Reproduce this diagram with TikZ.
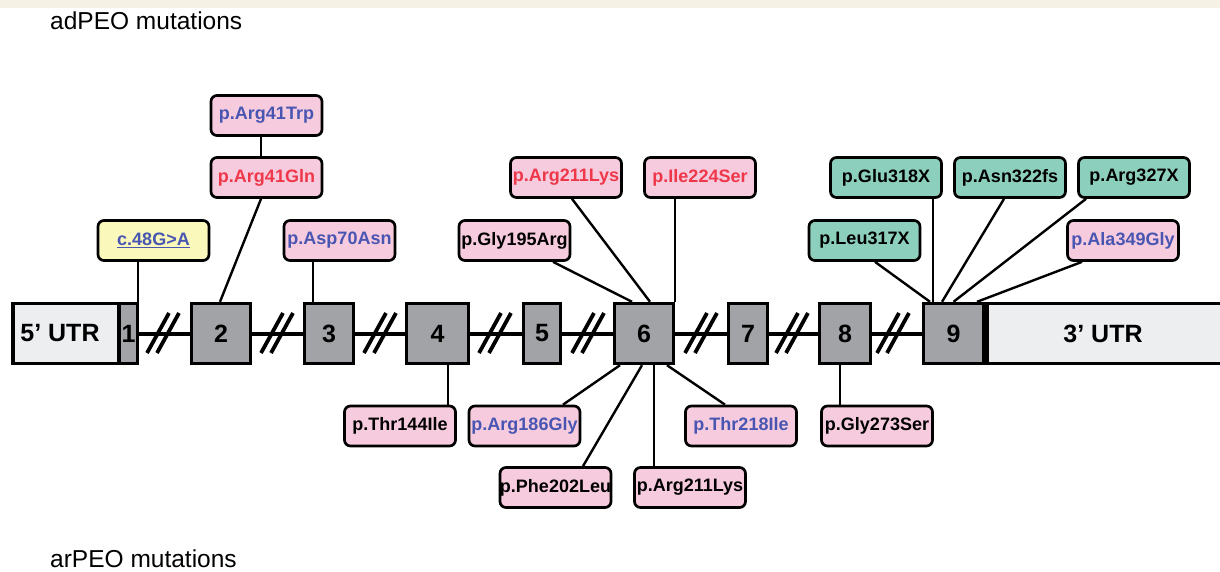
\documentclass[tikz,border=0pt]{standalone}
\usepackage{fontspec}
\setmainfont{Liberation Sans}
\usetikzlibrary{calc}

\definecolor{mutpink}{RGB}{247,203,222}
\definecolor{mutteal}{RGB}{141,207,189}
\definecolor{mutyellow}{RGB}{250,248,186}
\definecolor{exongray}{RGB}{161,163,167}
\definecolor{utrgray}{RGB}{236,238,240}
\definecolor{txtblue}{RGB}{72,86,178}
\definecolor{txtred}{RGB}{238,56,74}
\definecolor{topband}{RGB}{245,241,228}

\tikzset{
  mut/.style={draw=black, line width=2.7pt, rounded corners=6pt, fill=mutpink,
    minimum width=111pt, minimum height=40pt, inner sep=0pt,
    font=\fontsize{18}{21}\selectfont\bfseries},
  teal/.style={mut, fill=mutteal},
  yellowbox/.style={mut, fill=mutyellow},
  exon/.style={draw=black, line width=3.4pt, fill=exongray, inner sep=0pt,
    minimum height=60pt, font=\fontsize{25}{28}\selectfont\bfseries},
  utr/.style={exon, fill=utrgray},
  conn/.style={draw=black, line width=2.4pt},
  backbone/.style={draw=black, line width=4pt},
  slash/.style={draw=black, line width=3.8pt},
  heading/.style={anchor=base west, inner sep=0pt, font=\fontsize{24.5}{28}\selectfont}
}

\begin{document}
\begin{tikzpicture}[x=1pt,y=-1pt]
\useasboundingbox (0,0) rectangle (1220,571);
\clip (0,0) rectangle (1220,571);
\fill[white] (0,0) rectangle (1220,571);
\fill[topband] (0,0) rectangle (1220,8);

% headings
\node[heading] (adhead) at (50,29) {adPEO mutations};
\node[heading] (arhead) at (50,567) {arPEO mutations};

% gene structure: exons and UTRs
\node[utr, minimum width=106pt] (utr5) at (66,333.5) {5’ UTR\hspace*{12pt}};
\node[exon, minimum width=18pt] (e1) at (128.5,333.5) {1};
\node[exon, minimum width=59pt] (e2) at (221,333.5) {2};
\node[exon, minimum width=49pt] (e3) at (329,333.5) {3};
\node[exon, minimum width=62pt] (e4) at (437.5,333.5) {4};
\node[exon, minimum width=37pt] (e5) at (542,333.5) {5};
\node[exon, minimum width=59pt] (e6) at (644,333.5) {6};
\node[exon, minimum width=39pt] (e7) at (748,333.5) {7};
\node[exon, minimum width=51pt] (e8) at (845,333.5) {8};
\node[exon, minimum width=60pt] (e9) at (953.5,333.5) {9};
\node[utr, minimum width=260pt, anchor=west] (utr3) at (e9.east) {};
\node[font=\fontsize{25}{28}\selectfont\bfseries, inner sep=0pt] (utr3txt) at (1103,333.5) {3’ UTR};

% intron backbone and break marks
\path[backbone] (e1.east) -- (e2.west) (e2.east) -- (e3.west) (e3.east) -- (e4.west)
  (e4.east) -- (e5.west) (e5.east) -- (e6.west) (e6.east) -- (e7.west)
  (e7.east) -- (e8.west) (e8.east) -- (e9.west);
\foreach \c in {163,277,380,495,588,701,792,893} {
  \draw[slash] (\c-16,353) -- (\c+6,313);
  \draw[slash] (\c-6,353) -- (\c+16,313);
}

% mutation labels above the gene
\node[mut, text=txtblue] (trp) at (266.5,115.5) {p.Arg41Trp};
\node[mut, text=txtred] (gln) at (266.5,177.5) {p.Arg41Gln};
\node[yellowbox, text=txtblue] (c48) at (153.5,240.5) {\underline{c.48G>A}};
\node[mut, text=txtblue] (asp70) at (339.5,240.5) {p.Asp70Asn};
\node[mut, text=black] (gly195) at (514.5,240.5) {p.Gly195Arg};
\node[mut, text=txtred] (arg211r) at (566,177.5) {p.Arg211Lys};
\node[mut, text=txtred] (ile224) at (700,177.5) {p.Ile224Ser};
\node[teal] (glu318) at (886,177.5) {p.Glu318X};
\node[teal] (asn322) at (1010,177.5) {p.Asn322fs};
\node[teal] (arg327) at (1134,177.5) {p.Arg327X};
\node[teal] (leu317) at (864.5,240.5) {p.Leu317X};
\node[mut, text=txtblue] (ala349) at (1123,240.5) {p.Ala349Gly};

% mutation labels below the gene
\node[mut, text=black] (thr144) at (400,426) {p.Thr144Ile};
\node[mut, text=txtblue] (arg186) at (524.5,426) {p.Arg186Gly};
\node[mut, text=txtblue] (thr218) at (741,426) {p.Thr218Ile};
\node[mut, text=black] (gly273) at (877,426) {p.Gly273Ser};
\node[mut, text=black] (phe202) at (555.5,487.5) {p.Phe202Leu};
\node[mut, text=black] (arg211b) at (690,487.5) {p.Arg211Lys};

% connectors from labels to exons
\draw[conn] ([xshift=-15.5pt]c48.south) -- ([xshift=-15.5pt]c48.south |- e1.north);
\draw[conn] ([xshift=-5.5pt]trp.south) -- ([xshift=-5.5pt]gln.north);
\draw[conn] ([xshift=-5.5pt]gln.south) -- ([xshift=-1pt]e2.north);
\draw[conn] ([xshift=-26.5pt]asp70.south) -- ([xshift=-26.5pt]asp70.south |- e3.north);
\draw[conn] ([xshift=38.5pt]gly195.south) -- ([xshift=-12pt]e6.north);
\draw[conn] ([xshift=6pt]arg211r.south) -- ([xshift=6pt]e6.north);
\draw[conn] ([xshift=-25pt]ile224.south) -- ([xshift=-25pt]ile224.south |- e6.north);
\draw[conn] ([xshift=47pt]glu318.south) -- ([xshift=47pt]glu318.south |- e9.north);
\draw[conn] ([xshift=-6pt]asn322.south) -- ([xshift=-11.5pt]e9.north);
\draw[conn] ([xshift=-48pt]arg327.south) -- (e9.north);
\draw[conn] ([xshift=10.5pt]leu317.south) -- ([xshift=-23.5pt]e9.north);
\draw[conn] ([xshift=-41pt]ala349.south) -- ([xshift=23.5pt]e9.north);
\draw[conn] ([xshift=48pt]thr144.north) -- ([xshift=48pt]thr144.north |- e4.south);
\draw[conn] ([xshift=38.5pt]arg186.north) -- ([xshift=-24pt]e6.south);
\draw[conn] ([xshift=27.5pt]phe202.north) -- ([xshift=-2pt]e6.south);
\draw[conn] ([xshift=-36pt]arg211b.north) -- ([xshift=-36pt]arg211b.north |- e6.south);
\draw[conn] ([xshift=-16pt]thr218.north) -- ([xshift=23pt]e6.south);
\draw[conn] ([xshift=-37pt]gly273.north) -- ([xshift=-37pt]gly273.north |- e8.south);
\end{tikzpicture}
\end{document}
